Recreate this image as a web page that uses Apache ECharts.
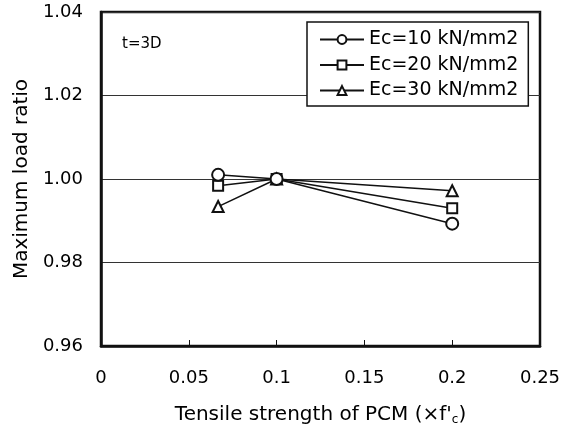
<!DOCTYPE html>
<html><head><meta charset="utf-8">
<script src="https://cdn.jsdelivr.net/npm/echarts@6/dist/echarts.min.js"></script>
<style>html,body{margin:0;padding:0;background:#fff}#c{width:569px;height:431px}</style>
</head><body><div id="c"></div>
<script>
const xValues = [0.0667, 0.1, 0.2];
const seriesNames = ['Ec=10 kN/mm2', 'Ec=20 kN/mm2', 'Ec=30 kN/mm2'];
const ec10 = [1.001, 1.000, 0.9893];
const ec20 = [0.9984, 1.000, 0.9930];
const ec30 = [0.9934, 1.000, 0.9972];
const symbols = ['emptyCircle', 'emptyRect', 'emptyTriangle'];
const symbolSizes = [12, 10, 11];
const allValues = [ec10, ec20, ec30];

const font = 'DejaVu Sans, Liberation Sans, sans-serif';
const chart = echarts.init(document.getElementById('c'));
chart.setOption({
  animation: false,
  backgroundColor: '#fff',
  grid: {left: 101, top: 12, width: 439, height: 338, show: true, borderColor: '#111', borderWidth: 2.5, containLabel: false},
  xAxis: {
    type: 'value', min: 0, max: 0.25, interval: 0.05,
    name: "Tensile strength of PCM (×f'{s|c})", nameLocation: 'middle', nameGap: 58,
    nameTextStyle: {fontFamily: font, fontSize: 20, color: '#000', rich: {s: {fontFamily: font, fontSize: 12, color: '#000', verticalAlign: 'bottom', padding: [10,0,0,0]}}},
    axisLine: {show: true, lineStyle: {color: '#111', width: 2.5}},
    axisTick: {show: true, inside: true, length: 6, lineStyle: {color: '#111', width: 1}},
    axisLabel: {fontFamily: font, fontSize: 18, color: '#000', margin: 23},
    splitLine: {show: false}
  },
  yAxis: {
    type: 'value', min: 0.96, max: 1.04, interval: 0.02,
    name: 'Maximum load ratio', nameLocation: 'middle', nameGap: 68, nameRotate: 90,
    nameTextStyle: {fontFamily: font, fontSize: 20, color: '#000'},
    axisLine: {show: true, lineStyle: {color: '#111', width: 2.5}},
    axisTick: {show: false},
    axisLabel: {fontFamily: font, fontSize: 18, color: '#000', margin: 18, padding: [8, 0, 0, 0], formatter: v => v.toFixed(2)},
    splitLine: {show: true, lineStyle: {color: '#333', width: 1}}
  },
  legend: {
    orient: 'vertical', left: 307, top: 22, padding: [8, 10, 6, 12],
    borderColor: '#111', borderWidth: 1.5, backgroundColor: '#fff',
    itemWidth: 44, itemHeight: 11, itemGap: 6.5,
    textStyle: {fontFamily: font, fontSize: 19, color: '#000'},
    data: seriesNames
  },
  graphic: [{type: 'text', left: 122, top: 37, style: {text: 't=3D', font: '15px ' + font, fill: '#000'}}],
  series: seriesNames.map((n, i) => ({
    name: n, type: 'line',
    data: xValues.map((x, j) => [x, allValues[i][j]]),
    symbol: symbols[i], symbolSize: symbolSizes[i], showAllSymbol: true,
    lineStyle: {color: '#111', width: 1.5},
    itemStyle: {color: '#111', borderColor: '#111', borderWidth: 1.5},
    z: 3 - i
  }))
});
</script></body></html>
